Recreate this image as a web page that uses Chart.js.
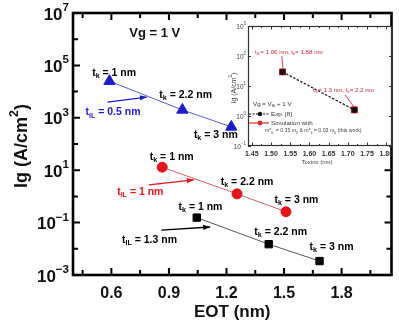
<!DOCTYPE html>
<html>
<head>
<meta charset="utf-8">
<script src="https://cdn.jsdelivr.net/npm/chart.js@4.4.1/dist/chart.umd.min.js"></script>
<style>
  html, body { margin: 0; padding: 0; background: #fff; }
  #wrap { position: relative; width: 399px; height: 324px; overflow: hidden; }
  #main { position: absolute; left: 0; top: 0; }
  #inset { position: absolute; left: 228px; top: 16px; }
</style>
</head>
<body>
<div id="wrap">
  <canvas id="main" width="399" height="324"></canvas>
  <canvas id="inset" width="171" height="156"></canvas>
</div>
<script>
// Gate leakage Ig (A/cm^2) vs EOT (nm) at Vg = 1 V, three interlayer thicknesses
const eotIL05 = [0.59, 0.97, 1.225];
const igIL05  = [2.5e4, 2.0e3, 4.5e2];
const eotIL10 = [0.865, 1.255, 1.51];
const igIL10  = [13, 1.25, 0.26];
const eotIL13 = [1.045, 1.42, 1.685];
const igIL13  = [0.155, 0.015, 0.0034];
const tkValues = ['1', '2.2', '3'];

const xTickValues = [0.6, 0.9, 1.2, 1.5, 1.8];
const xMinorTicks = [0.45, 0.75, 1.05, 1.35, 1.65, 1.95];
const yTickExponents = [7, 5, 3, 1, -1, -3];

// Inset: Ig vs Tox,inv, experiment and simulation
const toxInv = [1.53, 1.717];
const igExp  = [29.5, 1.6];
const igSim  = [29.5, 1.6];
const insetXTicks = ['1.45', '1.50', '1.55', '1.60', '1.65', '1.70', '1.75', '1.80'];
const insetYExponents = [3, 2, 1, 0, -1];

const FONT = '"Liberation Sans", Arial, Helvetica, sans-serif';
const BLUE = '#1c1cc8', RED = '#e3141c', BLACK = '#000000';

function toPoints(xs, ys) { return xs.map((x, i) => ({ x: x, y: ys[i] })); }

// draw a run of text pieces, with optional subscripts / superscripts
function rich(ctx, parts, x, y, size, color, bold, align) {
  const w = (p) => {
    const s = (p.sub || p.sup) ? size * 0.68 : size;
    ctx.font = (bold ? 'bold ' : '') + s + 'px ' + FONT;
    return ctx.measureText(p.t).width;
  };
  let total = parts.reduce((a, p) => a + w(p), 0);
  let cx = align === 'right' ? x - total : align === 'center' ? x - total / 2 : x;
  ctx.fillStyle = color;
  ctx.textBaseline = 'middle';
  ctx.textAlign = 'left';
  for (const p of parts) {
    const s = (p.sub || p.sup) ? size * 0.68 : size;
    ctx.font = (bold ? 'bold ' : '') + s + 'px ' + FONT;
    const dy = p.sub ? size * 0.32 : p.sup ? -size * 0.42 : 0;
    ctx.fillText(p.t, cx, y + dy);
    cx += ctx.measureText(p.t).width;
  }
  return total;
}

function arrow(ctx, x1, y1, x2, y2, color, head) {
  ctx.save();
  ctx.strokeStyle = color; ctx.fillStyle = color; ctx.lineWidth = 1.3;
  ctx.beginPath(); ctx.moveTo(x1, y1); ctx.lineTo(x2, y2); ctx.stroke();
  if (head) {
    const a = Math.atan2(y2 - y1, x2 - x1), L = 7, W = 2.6;
    ctx.beginPath();
    ctx.moveTo(x2, y2);
    ctx.lineTo(x2 - L * Math.cos(a) + W * Math.sin(a), y2 - L * Math.sin(a) - W * Math.cos(a));
    ctx.lineTo(x2 - L * Math.cos(a) - W * Math.sin(a), y2 - L * Math.sin(a) + W * Math.cos(a));
    ctx.closePath(); ctx.fill();
  }
  ctx.restore();
}

const tk = (v) => [{ t: 't' }, { t: 'k', sub: true }, { t: ' = ' + v + ' nm' }];
const til = (v) => [{ t: 't' }, { t: 'IL', sub: true }, { t: ' = ' + v + ' nm' }];

// label anchors in data space (EOT, Ig)
const mainLabels = [
  { parts: tk(tkValues[0]), x: 0.50, y: 5.1e4, color: BLACK },
  { parts: tk(tkValues[1]), x: 0.85, y: 7.4e3, color: BLACK },
  { parts: tk(tkValues[2]), x: 1.03, y: 2.2e2, color: BLACK },
  { parts: til('0.5'), x: 0.465, y: 1.6e3, color: BLUE },
  { parts: tk(tkValues[0]), x: 0.80, y: 32, color: BLACK },
  { parts: tk(tkValues[1]), x: 1.17, y: 3.5, color: BLACK },
  { parts: tk(tkValues[2]), x: 1.45, y: 0.72, color: BLACK },
  { parts: til('1'), x: 0.63, y: 1.45, color: RED },
  { parts: tk(tkValues[0]), x: 0.95, y: 0.40, color: BLACK },
  { parts: tk(tkValues[1]), x: 1.345, y: 0.044, color: BLACK },
  { parts: tk(tkValues[2]), x: 1.633, y: 0.0118, color: BLACK },
  { parts: til('1.3'), x: 0.655, y: 0.022, color: BLACK }
];
const mainArrows = [
  { x1: 0.58, y1: 4.0e3, x2: 0.785, y2: 6.2e3, color: BLUE },
  { x1: 0.795, y1: 2.75, x2: 1.03, y2: 4.3, color: RED },
  { x1: 0.86, y1: 0.052, x2: 1.115, y2: 0.068, color: BLACK }
];

const mainAxes = {
  id: 'mainAxes',
  afterDraw(chart) {
    const { ctx, chartArea: a, scales: { x, y } } = chart;
    ctx.save();
    // tick marks, pointing inward on all four sides
    ctx.strokeStyle = '#000'; ctx.lineWidth = 2;
    const decs = []; for (let e = -3; e <= 7; e++) decs.push(e);
    for (const e of decs) {
      const py = y.getPixelForValue(Math.pow(10, e));
      const L = yTickExponents.includes(e) ? 7 : 5;
      ctx.beginPath();
      ctx.moveTo(a.left, py); ctx.lineTo(a.left + L, py);
      ctx.moveTo(a.right, py); ctx.lineTo(a.right - L, py);
      ctx.stroke();
    }
    const xt = xTickValues.map(v => [v, 7]).concat(xMinorTicks.map(v => [v, 5]));
    for (const [v, L] of xt) {
      const px = x.getPixelForValue(v);
      ctx.beginPath();
      ctx.moveTo(px, a.bottom); ctx.lineTo(px, a.bottom - L);
      ctx.moveTo(px, a.top); ctx.lineTo(px, a.top + L);
      ctx.stroke();
    }
    // frame
    ctx.lineWidth = 2.6;
    ctx.strokeRect(a.left, a.top, a.right - a.left, a.bottom - a.top);

    // y tick labels: 10^n
    for (const e of yTickExponents) {
      const py = y.getPixelForValue(Math.pow(10, e));
      rich(ctx, [{ t: '10' }, { t: String(e).replace('-', '\u2212'), sup: true }], a.left - 4, py + 2, 17, '#111', true, 'right');
    }
    // x tick labels
    ctx.fillStyle = '#111'; ctx.font = 'bold 16px ' + FONT;
    ctx.textAlign = 'center'; ctx.textBaseline = 'middle';
    for (const v of xTickValues) ctx.fillText(v.toFixed(1), x.getPixelForValue(v), a.bottom + 19);
    // axis titles
    ctx.font = 'bold 17px ' + FONT;
    ctx.fillText('EOT (nm)', (a.left + a.right) / 2, 312);
    ctx.save();
    ctx.translate(22, (a.top + a.bottom) / 2 + 2);
    ctx.rotate(-Math.PI / 2);
    rich(ctx, [{ t: 'Ig (A/cm' }, { t: '2', sup: true }, { t: ')' }], 0, 0, 18, '#111', true, 'center');
    ctx.restore();

    // annotations
    rich(ctx, [{ t: 'Vg = 1 V' }], x.getPixelForValue(0.693), y.getPixelForValue(1.7e6), 13, '#111', true, 'left');
    for (const l of mainLabels) rich(ctx, l.parts, x.getPixelForValue(l.x), y.getPixelForValue(l.y), 10.5, l.color, true, 'left');
    for (const ar of mainArrows)
      arrow(ctx, x.getPixelForValue(ar.x1), y.getPixelForValue(ar.y1), x.getPixelForValue(ar.x2), y.getPixelForValue(ar.y2), ar.color, true);
    ctx.restore();
  }
};

new Chart(document.getElementById('main'), {
  type: 'scatter',
  data: {
    datasets: [
      { label: 'tIL = 0.5 nm', data: toPoints(eotIL05, igIL05), showLine: true,
        borderColor: '#5a5ad8', borderWidth: 1, pointStyle: 'triangle', pointRadius: 6.5,
        backgroundColor: BLUE, pointBorderColor: BLUE },
      { label: 'tIL = 1 nm', data: toPoints(eotIL10, igIL10), showLine: true,
        borderColor: '#e06060', borderWidth: 1, pointStyle: 'circle', pointRadius: 5,
        backgroundColor: RED, pointBorderColor: RED },
      { label: 'tIL = 1.3 nm', data: toPoints(eotIL13, igIL13), showLine: true,
        borderColor: '#555', borderWidth: 1, pointStyle: 'rect', pointRadius: 5.2,
        backgroundColor: BLACK, pointBorderColor: BLACK }
    ]
  },
  options: {
    responsive: false, animation: false, devicePixelRatio: 1,
    layout: { padding: { left: 73, top: 13, right: 3, bottom: 49 } },
    scales: {
      x: { type: 'linear', min: 0.4, max: 2.06, display: false },
      y: { type: 'logarithmic', min: 1e-3, max: 1e7, display: false }
    },
    plugins: { legend: { display: false }, tooltip: { enabled: false } }
  },
  plugins: [mainAxes]
});

// ---------- inset ----------
const insetAxes = {
  id: 'insetAxes',
  beforeDraw(chart) {
    const { ctx, chartArea: a } = chart;
    ctx.save(); ctx.fillStyle = '#fff';
    ctx.fillRect(a.left, a.top, a.right - a.left, a.bottom - a.top);
    ctx.restore();
  },
  afterDraw(chart) {
    const { ctx, chartArea: a, scales: { x, y } } = chart;
    ctx.save();
    ctx.strokeStyle = '#333'; ctx.lineWidth = 1;
    for (const e of insetYExponents) {
      const py = Math.round(y.getPixelForValue(Math.pow(10, e))) + 0.5;
      ctx.beginPath();
      ctx.moveTo(a.left, py); ctx.lineTo(a.left + 3, py);
      ctx.moveTo(a.right, py); ctx.lineTo(a.right - 3, py);
      ctx.stroke();
    }
    for (let i = 0; i < insetXTicks.length; i++) {
      const v = parseFloat(insetXTicks[i]);
      for (const [vv, L] of [[v, 3.5], [v + 0.025, 2]]) {
        if (vv > x.max) continue;
        const px = Math.round(x.getPixelForValue(vv)) + 0.5;
        ctx.beginPath();
        ctx.moveTo(px, a.bottom); ctx.lineTo(px, a.bottom - L);
        ctx.moveTo(px, a.top); ctx.lineTo(px, a.top + L);
        ctx.stroke();
      }
    }
    ctx.lineWidth = 1.2;
    ctx.strokeRect(a.left + 0.5, a.top + 0.5, a.right - a.left - 1, a.bottom - a.top - 1);

    // tick labels
    for (const e of insetYExponents)
      rich(ctx, [{ t: '10' }, { t: String(e).replace('-', '\u2212'), sup: true }], a.left - 2, y.getPixelForValue(Math.pow(10, e)) + 1, 6.5, '#444', false, 'right');
    ctx.fillStyle = '#333'; ctx.font = 'bold 7px ' + FONT;
    ctx.textAlign = 'center'; ctx.textBaseline = 'middle';
    for (const t of insetXTicks) ctx.fillText(t, x.getPixelForValue(parseFloat(t)), a.bottom + 8);
    ctx.font = '6px ' + FONT; ctx.fillStyle = '#444';
    ctx.fillText('Toxinv (nm)', (a.left + a.right) / 2 - 3, a.bottom + 16);
    ctx.save();
    ctx.translate(a.left - 14, 72);
    ctx.rotate(-Math.PI / 2);
    rich(ctx, [{ t: 'Ig (A/cm' }, { t: '2', sup: true }, { t: ')' }], 0, 0, 7, '#444', false, 'center');
    ctx.restore();

    // red annotations with leader lines
    const lab1 = [{ t: 't' }, { t: 'IL', sub: true }, { t: '= 1.06 nm, t' }, { t: 'k', sub: true }, { t: '= 1.88 nm' }];
    const lab2 = [{ t: 't' }, { t: 'IL', sub: true }, { t: '= 1.3 nm, t' }, { t: 'k', sub: true }, { t: '= 2.2 nm' }];
    rich(ctx, lab1, x.getPixelForValue(1.458), y.getPixelForValue(Math.pow(10, 2.13)), 6.2, '#d42a30', false, 'left');
    rich(ctx, lab2, x.getPixelForValue(1.609), y.getPixelForValue(Math.pow(10, 0.87)), 6.2, '#d42a30', false, 'left');
    ctx.strokeStyle = '#c83038'; ctx.lineWidth = 0.9;
    ctx.beginPath();
    ctx.moveTo(x.getPixelForValue(1.528), y.getPixelForValue(Math.pow(10, 2.0)));
    ctx.lineTo(x.getPixelForValue(1.531), y.getPixelForValue(Math.pow(10, 1.6)));
    ctx.moveTo(x.getPixelForValue(1.693), y.getPixelForValue(Math.pow(10, 0.7)));
    ctx.lineTo(x.getPixelForValue(1.716), y.getPixelForValue(Math.pow(10, 0.3)));
    ctx.stroke();

    // legend block
    const lx = a.left + 4, ly = a.top + 78;
    rich(ctx, [{ t: 'Vg = V' }, { t: 'fb', sub: true }, { t: ' + 1 V' }], lx + 1, ly, 6.2, '#333', false, 'left');
    ctx.strokeStyle = '#111'; ctx.lineWidth = 1; ctx.setLineDash([2, 1.5]);
    ctx.beginPath(); ctx.moveTo(lx - 3, ly + 10); ctx.lineTo(lx + 17, ly + 10); ctx.stroke();
    ctx.setLineDash([]);
    ctx.fillStyle = '#111'; ctx.beginPath(); ctx.arc(lx + 8, ly + 10, 2.2, 0, Math.PI * 2); ctx.fill();
    rich(ctx, [{ t: 'Exp. [8]' }], lx + 19, ly + 10, 6.2, '#333', false, 'left');
    ctx.strokeStyle = '#d42a30'; ctx.lineWidth = 1.2;
    ctx.beginPath(); ctx.moveTo(lx - 3, ly + 19); ctx.lineTo(lx + 17, ly + 19); ctx.stroke();
    ctx.fillStyle = '#d42a30'; ctx.beginPath(); ctx.arc(lx + 8, ly + 19, 2.4, 0, Math.PI * 2); ctx.fill();
    rich(ctx, [{ t: 'Simulation with' }], lx + 19, ly + 19, 6.2, '#333', false, 'left');
    rich(ctx, [{ t: 'm*' }, { t: 'IL', sub: true }, { t: ' = 0.35 m' }, { t: '0', sub: true }, { t: ' & m*' }, { t: 'k', sub: true },
               { t: ' = 0.03 m' }, { t: '0', sub: true }, { t: ' (this work)' }], lx + 13, ly + 27, 5.2, '#444', false, 'left');
    ctx.restore();
  }
};

new Chart(document.getElementById('inset'), {
  type: 'scatter',
  data: {
    datasets: [
      { label: 'Exp. [8]', data: toPoints(toxInv, igExp), showLine: true,
        borderColor: '#222', borderWidth: 1.3, borderDash: [2.5, 1.5],
        pointStyle: 'circle', pointRadius: 2.2, backgroundColor: '#111', pointBorderColor: '#111' },
      { label: 'Simulation', data: toPoints(toxInv, igSim), showLine: false,
        pointStyle: 'rect', pointRadius: 4.2, backgroundColor: '#c8202a', pointBorderColor: '#a01820' }
    ]
  },
  options: {
    responsive: false, animation: false, devicePixelRatio: 1,
    layout: { padding: { left: 20, top: 10, right: 7, bottom: 26 } },
    scales: {
      x: { type: 'linear', min: 1.44, max: 1.815, display: false },
      y: { type: 'logarithmic', min: 0.1, max: 1000, display: false }
    },
    plugins: { legend: { display: false }, tooltip: { enabled: false } }
  },
  plugins: [insetAxes]
});
</script>
</body>
</html>
